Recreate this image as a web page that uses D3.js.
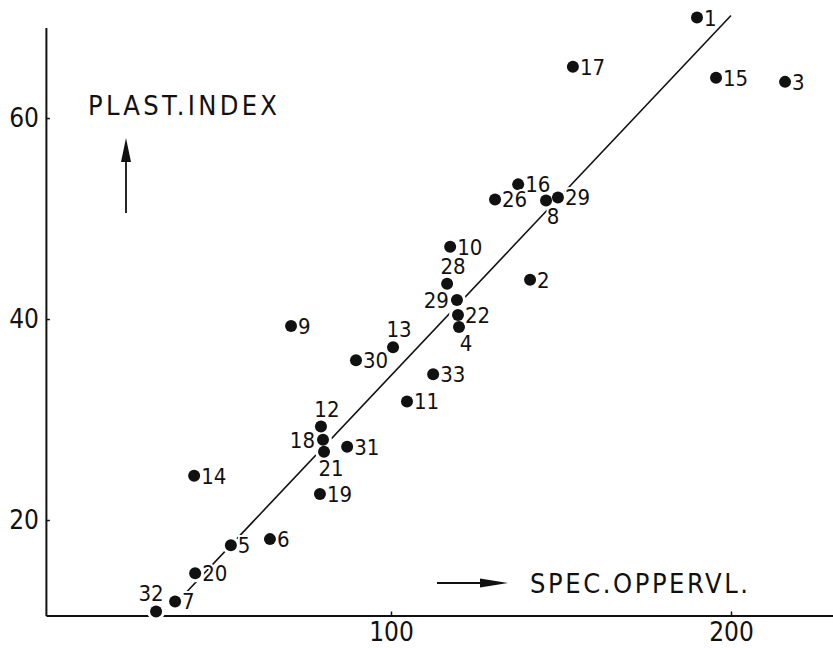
<!DOCTYPE html>
<html>
<head>
<meta charset="utf-8">
<script src="https://cdn.jsdelivr.net/npm/d3@7"></script>
<style>
  body { margin: 0; background: #fff; }
  svg { display: block; }
  text { font-family: "DejaVu Sans Condensed", "DejaVu Sans", sans-serif; fill: #111; }
</style>
</head>
<body>
<div id="chart"></div>
<script>
// ===== data
var sampleIds = ["1", "17", "15", "3", "16", "26", "8", "29", "10", "28", "29", "2", "22", "4", "9", "13", "30", "33", "11", "12", "18", "21", "31", "14", "19", "6", "5", "20", "7", "32"];
var specSurface = [190, 153.5, 195.6, 215.9, 137.4, 130.6, 145.6, 149.1, 117.4, 116.5, 119.4, 140.9, 119.7, 120, 70.6, 100.6, 89.7, 112.4, 104.7, 79.4, 80, 80.3, 87.1, 42.1, 79.1, 64.4, 52.9, 42.4, 36.5, 30.9];
var plastIndex = [70.0, 65.1, 64.0, 63.6, 53.4, 51.9, 51.8, 52.1, 47.2, 43.5, 41.9, 43.9, 40.4, 39.2, 39.3, 37.2, 35.9, 34.5, 31.8, 29.3, 28.0, 26.8, 27.3, 24.4, 22.6, 18.1, 17.5, 14.7, 11.9, 10.9];
// where each number sits next to its dot: r = right, a = above, l = left, b = below, al = above-left
var labelSide = ["r", "r", "r", "r", "r", "r", "b", "r", "r", "a", "l", "r", "r", "b", "r", "a", "r", "r", "r", "a", "l", "b", "r", "r", "r", "r", "r", "r", "r", "al"];

// fitted line end points
var fitX = [35.3, 200];
var fitY = [11.2, 70.2];

var xTicks = [100, 200];
var yTicks = [20, 40, 60];

// ===== sizes
var svgWidth = 833;
var svgHeight = 648;

var svg = d3.select("#chart").append("svg")
    .attr("width", svgWidth)
    .attr("height", svgHeight);

// scales (axes cross at x = -1.5, y = 10.5)
var xScale = d3.scaleLinear().domain([-1.5, 230]).range([45.9, 833]);
var yScale = d3.scaleLinear().domain([10.5, 69]).range([615.5, 27.6]);

// ===== axes
var xAxis = d3.axisBottom(xScale).tickValues(xTicks).tickSize(-4).tickSizeOuter(0).tickPadding(7);
var yAxis = d3.axisLeft(yScale).tickValues(yTicks).tickSize(-4).tickSizeOuter(0).tickPadding(7);

var xg = svg.append("g")
    .attr("transform", `translate(0, ${yScale(10.5)})`)
    .call(xAxis);
var yg = svg.append("g")
    .attr("transform", `translate(${xScale(-1.5)}, 0)`)
    .call(yAxis);

[xg, yg].forEach(function(g) {
    g.select(".domain").attr("stroke", "#111").attr("stroke-width", 2);
    g.selectAll(".tick line").attr("stroke", "#111").attr("stroke-width", 1.5);
    g.selectAll(".tick text")
        .attr("font-family", "DejaVu Sans Condensed, DejaVu Sans, sans-serif")
        .attr("font-size", 26)
        .attr("fill", "#111");
});

// ===== fitted line
var line = d3.line().x(d => xScale(d[0])).y(d => yScale(d[1]));
svg.append("path")
    .datum(d3.zip(fitX, fitY))
    .attr("d", line)
    .attr("fill", "none")
    .attr("stroke", "#111")
    .attr("stroke-width", 1.6);

// ===== points
var points = d3.zip(sampleIds, specSurface, plastIndex, labelSide);

// white halo so the line breaks round the dots
svg.append("g").selectAll("circle")
    .data(points)
    .enter()
    .append("circle")
    .attr("cx", d => xScale(d[1]))
    .attr("cy", d => yScale(d[2]))
    .attr("r", 9)
    .attr("fill", "#fff");

svg.append("g").selectAll("circle")
    .data(points)
    .enter()
    .append("circle")
    .attr("cx", d => xScale(d[1]))
    .attr("cy", d => yScale(d[2]))
    .attr("r", 6)
    .attr("fill", "#111");

// label offsets by side
var off = {
    r:  { dx: 7,  dy: 8,   anchor: "start" },
    a:  { dx: 6,  dy: -10, anchor: "middle" },
    l:  { dx: -8, dy: 8,   anchor: "end" },
    b:  { dx: 7,  dy: 24,  anchor: "middle" },
    al: { dx: -5, dy: -10, anchor: "middle" }
};

svg.append("g").selectAll("text")
    .data(points)
    .enter()
    .append("text")
    .attr("x", d => xScale(d[1]) + off[d[3]].dx)
    .attr("y", d => yScale(d[2]) + off[d[3]].dy)
    .attr("text-anchor", d => off[d[3]].anchor)
    .attr("font-size", 22)
    .attr("stroke", "#fff")
    .attr("stroke-width", 4)
    .attr("paint-order", "stroke")
    .text(d => d[0]);

// ===== axis titles with arrows
svg.append("text")
    .attr("x", 88)
    .attr("y", 115)
    .attr("font-size", 27)
    .attr("textLength", 189)
    .attr("lengthAdjust", "spacing")
    .text("PLAST.INDEX");

svg.append("line")
    .attr("x1", 126).attr("y1", 213)
    .attr("x2", 126).attr("y2", 155)
    .attr("stroke", "#111").attr("stroke-width", 1.8);
svg.append("path")
    .attr("d", "M126,138 L131,162 L121,162 Z")
    .attr("fill", "#111");

svg.append("text")
    .attr("x", 530)
    .attr("y", 593)
    .attr("font-size", 27)
    .attr("textLength", 218)
    .attr("lengthAdjust", "spacing")
    .text("SPEC.OPPERVL.");

svg.append("line")
    .attr("x1", 437).attr("y1", 583)
    .attr("x2", 490).attr("y2", 583)
    .attr("stroke", "#111").attr("stroke-width", 1.8);
svg.append("path")
    .attr("d", "M508,583 L480,578.5 L480,587.5 Z")
    .attr("fill", "#111");
</script>
</body>
</html>
